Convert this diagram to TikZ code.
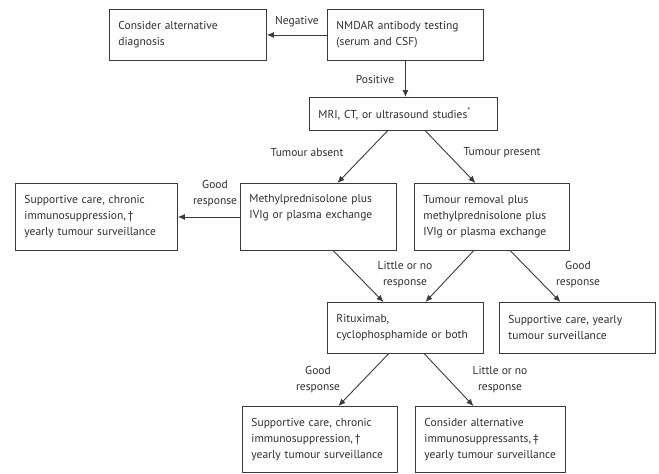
\documentclass[tikz,border=0pt]{standalone}
\usepackage{fontspec}
\setmainfont{PT Sans}
\usetikzlibrary{arrows.meta}
\definecolor{ink}{HTML}{2E2E2E}
\definecolor{linec}{HTML}{3A3A3A}
\begin{document}
\begin{tikzpicture}[x=1pt,y=-1pt,
  every node/.style={font=\fontsize{11.5}{16}\selectfont, text=ink},
  box/.style={draw=linec, line width=0.9pt, anchor=north west, align=left,
    inner xsep=9pt, inner ysep=0pt},
  lbl/.style={align=center, inner sep=0pt},
  arr/.style={draw=linec, line width=0.9pt, -{Latex[length=7pt,width=6pt]}}]
\useasboundingbox (0,0) rectangle (659,474);
% boxes
\node[box, text width=139pt, minimum height=51pt] (A) at (109,9) {Consider alternative\\diagnosis};
\node[box, text width=138pt, minimum height=51pt] (B) at (327,9) {NMDAR antibody testing\\(serum and CSF)};
\node[box, text width=170pt, minimum height=33pt] (C) at (309,97) {MRI, CT, or ultrasound studies\textsuperscript{*}};
\node[box, text width=144pt, minimum height=67pt] (D) at (15,183) {Supportive care, chronic\\immunosuppression,\,†\\yearly tumour surveillance};
\node[box, text width=138pt, minimum height=67pt] (E) at (240,183) {Methylprednisolone plus\\IVIg or plasma exchange\\\strut};
\node[box, text width=137pt, minimum height=67pt] (F) at (414,183) {Tumour removal plus\\methylprednisolone plus\\IVIg or plasma exchange};
\node[box, text width=138pt, minimum height=51pt] (G) at (327,302) {Rituximab,\\cyclophosphamide or both};
\node[box, text width=138pt, minimum height=51pt] (H) at (499,302) {Supportive care, yearly\\tumour surveillance};
\node[box, text width=137pt, minimum height=66pt] (I) at (242,406) {Supportive care, chronic\\immunosuppression,\,†\\yearly tumour surveillance};
\node[box, text width=132pt, minimum height=66pt] (J) at (415,406) {Consider alternative\\immunosuppressants,\,‡\\yearly tumour surveillance};
% labels
\node[lbl] (lneg) at (297,22) {Negative};
\node[lbl] (lpos) at (375,79) {Positive};
\node[lbl] (labs) at (307,153) {Tumour absent};
\node[lbl] (lpre) at (502,153) {Tumour present};
\node[lbl] (lgood1) at (215,193.5) {Good\\response};
\node[lbl] (llit1) at (405,274.5) {Little or no\\response};
\node[lbl] (lgood2) at (578,274.5) {Good\\response};
\node[lbl] (lgood3) at (318,380) {Good\\response};
\node[lbl] (llit2) at (500,380) {Little or no\\response};
% connectors
\draw[arr] (B.west) -- (A.east);
\draw[arr] (B.south) -- (B.south |- C.north);
\draw[arr] ([xshift=-16pt]C.south) -- ([xshift=19pt]E.north);
\draw[arr] ([xshift=22pt]C.south) -- ([xshift=-16.5pt]F.north);
\draw[arr] (E.west) -- (D.east);
\draw[arr] ([xshift=15pt]E.south) -- ([xshift=-22pt]G.north);
\draw[arr] ([xshift=-18.5pt]F.south) -- ([xshift=20pt]G.north);
\draw[arr] ([xshift=18.5pt]F.south) -- ([xshift=-17pt]H.north);
\draw[arr] ([xshift=-17pt]G.south) -- ([xshift=18.5pt]I.north);
\draw[arr] ([xshift=19pt]G.south) -- ([xshift=-17pt]J.north);
\end{tikzpicture}
\end{document}
